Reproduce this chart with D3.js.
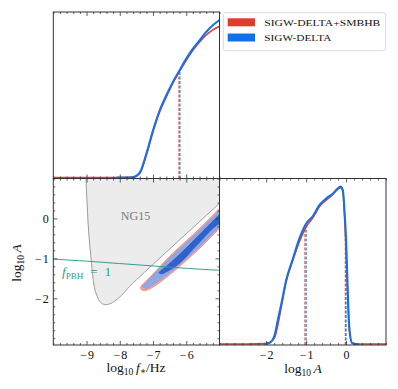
<!DOCTYPE html>
<html><head><meta charset="utf-8">
<script src="https://cdn.jsdelivr.net/npm/d3@7"></script>
<style>
html,body{margin:0;padding:0;background:#fff;}
svg{display:block;font-family:"Liberation Serif","DejaVu Serif",serif;}
</style></head>
<body>
<svg id="c" width="398" height="389"></svg>
<script>
// ---------- DATA ----------
const seriesNames = ["SIGW-DELTA+SMBHB", "SIGW-DELTA"];
const seriesColors = ["#e23a2c", "#1270ea"];

// 1D marginal of log10 f* (relative density)
const fRed = [[-10,0.006],[-8.5,0.006],[-7.8,0.006],[-7.6,0.008],[-7.4,0.03],[-7.2,0.14],[-7.0,0.28],[-6.8,0.40],[-6.6,0.49],[-6.4,0.575],[-6.2,0.645],[-6.0,0.71],[-5.8,0.77],[-5.6,0.82],[-5.4,0.862],[-5.2,0.893],[-5.0,0.915]];
const fBlue = [[-8.1,0.006],[-7.8,0.006],[-7.6,0.008],[-7.4,0.035],[-7.2,0.15],[-7.0,0.29],[-6.8,0.41],[-6.6,0.50],[-6.4,0.58],[-6.2,0.65],[-6.0,0.72],[-5.8,0.78],[-5.6,0.83],[-5.4,0.88],[-5.2,0.92],[-5.0,0.952]];
const fLimits = [-6.22, -6.19]; // red, blue

// 1D marginal of log10 A
const aRed = [[-3.17,0.006],[-2.5,0.006],[-2.0,0.008],[-1.92,0.015],[-1.79,0.045],[-1.71,0.12],[-1.62,0.23],[-1.5,0.38],[-1.33,0.51],[-1.17,0.62],[-1.0,0.71],[-0.83,0.765],[-0.67,0.83],[-0.5,0.87],[-0.33,0.905],[-0.21,0.935],[-0.14,0.945],[-0.08,0.92],[-0.04,0.78],[0.0,0.57],[0.04,0.29],[0.08,0.09],[0.15,0.012],[0.3,0.006],[1.0,0.006]];
const aBlue = [[-2.05,0.006],[-1.92,0.012],[-1.79,0.06],[-1.71,0.15],[-1.62,0.25],[-1.5,0.39],[-1.33,0.52],[-1.17,0.64],[-1.0,0.73],[-0.83,0.775],[-0.67,0.84],[-0.5,0.88],[-0.33,0.91],[-0.21,0.94],[-0.14,0.952],[-0.08,0.93],[-0.04,0.81],[0.0,0.64],[0.04,0.35],[0.08,0.11],[0.15,0.012],[0.25,0.006],[0.32,0.006]];
const aLimitsRed = [-1.03, -0.02];
const aLimitsBlue = [-1.0, 0.0];

// 2D: NG15 region boundary (log10 f*, log10 A)
const ng15 = [[-9.02,1.05],[-8.99,0.5],[-8.94,-0.29],[-8.85,-1.12],[-8.77,-1.7],[-8.68,-1.95],[-8.58,-2.1],[-8.45,-2.16],[-8.3,-2.14],[-8.15,-2.07],[-7.95,-1.93],[-7.7,-1.70],[-6.7,-0.92],[-5.0,0.38],[-4.9,0.46]];
const ng15Close = [[-4.9,1.1],[-9.02,1.1]];
// f_PBH = 1 line
const fpbh = [[-10,-1.02],[-9,-1.07],[-8,-1.13],[-7,-1.19],[-6,-1.25],[-5,-1.30]];
// contours
const red95 = [[-7.38,-1.74],[-7.25,-1.6],[-7.1,-1.48],[-6.5,-0.95],[-5.7,-0.33],[-5.0,0.25],[-4.7,0.52],[-4.7,0.0],[-5.0,-0.25],[-5.7,-0.83],[-6.5,-1.41],[-7.0,-1.72],[-7.2,-1.80],[-7.32,-1.80]];
const blue95 = [[-7.31,-1.71],[-7.15,-1.56],[-6.5,-1.0],[-5.7,-0.38],[-5.0,0.2],[-4.7,0.47],[-4.7,0.05],[-5.0,-0.2],[-5.7,-0.78],[-6.5,-1.36],[-7.0,-1.66],[-7.2,-1.75]];
const blue68 = [[-6.82,-1.36],[-6.6,-1.2],[-6.2,-0.9],[-5.6,-0.4],[-5.0,0.1],[-4.7,0.33],[-4.7,-0.08],[-5.0,-0.13],[-5.6,-0.6],[-6.2,-1.12],[-6.6,-1.34],[-6.75,-1.39]];

const fTicks = [-9,-8,-7,-6];
const aTicks = [-2,-1,0];

// ---------- LAYOUT ----------
const X0=53.3, X1=219.5, X2=386, Y0=12, Y1=178.5, Y2=345;
const svg = d3.select("#c");
const xF = d3.scaleLinear().domain([-10,-5]).range([X0,X1]);
const yA = d3.scaleLinear().domain([-3.17,1.0]).range([Y2,Y1]);
const xA = d3.scaleLinear().domain([-3.17,1.0]).range([X1,X2]);
const yTop = d3.scaleLinear().domain([0,1]).range([Y1,Y0]);
const yRight = d3.scaleLinear().domain([0,1]).range([Y2,Y1]);

const defs = svg.append("defs");
function clip(id,x,y,w,h){defs.append("clipPath").attr("id",id).append("rect").attr("x",x).attr("y",y).attr("width",w).attr("height",h);}
clip("cTop",X0,Y0,X1-X0,Y1-Y0);
clip("cBL",X0,Y1,X1-X0,Y2-Y1);
clip("cBR",X1,Y1,X2-X1,Y2-Y1);

const minorF = d3.range(-10,-4.99,0.2).map(v=>+v.toFixed(2)).filter(v=>!fTicks.includes(v));
const minorA = d3.range(-3.0,1.01,0.2).map(v=>+v.toFixed(2)).filter(v=>!aTicks.includes(v));
const TC="#333";
const fmt = d => d < 0 ? "\u2212\u200A" + Math.abs(d) : String(d);

function interp(arr,x){
  for(let i=0;i<arr.length-1;i++){
    if(x>=arr[i][0]&&x<=arr[i+1][0]){const t=(x-arr[i][0])/(arr[i+1][0]-arr[i][0]);return arr[i][1]+t*(arr[i+1][1]-arr[i][1]);}
  }
  return 0;
}

// ---------- 2D panel ----------
const bl = svg.append("g").attr("clip-path","url(#cBL)");
const l2 = d3.line().x(d=>xF(d[0])).y(d=>yA(d[1]));
bl.append("path").attr("d", l2.curve(d3.curveLinear)(ng15.concat(ng15Close))).attr("fill","#ececec");
bl.append("path").attr("d", d3.line().x(d=>xF(d[0])).y(d=>yA(d[1])).curve(d3.curveCatmullRom)(ng15)).attr("fill","none").attr("stroke","#9b9b9b").attr("stroke-width",1);
const lc = d3.line().x(d=>xF(d[0])).y(d=>yA(d[1])).curve(d3.curveCatmullRomClosed);
bl.append("path").attr("d",lc(red95)).attr("fill","#f3a29a").attr("stroke","#ee8a80").attr("stroke-width",0.8);
bl.append("path").attr("d",lc(blue95)).attr("fill","#8ea9e6").attr("stroke","#7d9be0").attr("stroke-width",0.6);
bl.append("path").attr("d",lc(blue68)).attr("fill","#2f63cb").attr("stroke","#2a5cc2").attr("stroke-width",0.5);
bl.append("path").attr("d", d3.line().x(d=>xF(d[0])).y(d=>yA(d[1])).curve(d3.curveCatmullRom)(fpbh)).attr("fill","none").attr("stroke","#2e9e92").attr("stroke-width",1);

// labels in 2D panel
svg.append("text").attr("x",135.5).attr("y",220).attr("text-anchor","middle").attr("font-size",12).attr("fill","#7a7a7a").text("NG15");
const fl = svg.append("text").attr("x",62).attr("y",276).attr("font-size",13.5).attr("fill","#2e9e92");
fl.append("tspan").attr("font-style","italic").text("f");
fl.append("tspan").attr("font-size",9).attr("dy",3).text("PBH");
fl.append("tspan").attr("dy",-3).text("\u2002=\u20021");

// ---------- top panel ----------
const tp = svg.append("g").attr("clip-path","url(#cTop)");
const lt = d3.line().x(d=>xF(d[0])).y(d=>yTop(d[1])).curve(d3.curveMonotoneX);
[fRed,fBlue].forEach((s,i)=>{
  tp.append("line").attr("x1",xF(fLimits[i])).attr("x2",xF(fLimits[i])).attr("y1",yTop(0)).attr("y2",yTop(interp(s,fLimits[i])))
    .attr("stroke",seriesColors[i]).attr("stroke-width",1).attr("stroke-dasharray","3,1.5");
});
tp.append("path").attr("d",lt(fRed)).attr("fill","none").attr("stroke",seriesColors[0]).attr("stroke-width",1.6);
tp.append("path").attr("d",lt(fBlue)).attr("fill","none").attr("stroke",seriesColors[1]).attr("stroke-width",2);

// ---------- right panel ----------
const rp = svg.append("g").attr("clip-path","url(#cBR)");
const lr = d3.line().x(d=>xA(d[0])).y(d=>yRight(d[1])).curve(d3.curveMonotoneX);
[[aRed,aLimitsRed],[aBlue,aLimitsBlue]].forEach(([s,lims],i)=>{
  lims.forEach(v=>{
    rp.append("line").attr("x1",xA(v)).attr("x2",xA(v)).attr("y1",yRight(0)).attr("y2",yRight(interp(s,v)))
      .attr("stroke",seriesColors[i]).attr("stroke-width",1).attr("stroke-dasharray","3,1.5");
  });
});
rp.append("path").attr("d",lr(aRed)).attr("fill","none").attr("stroke",seriesColors[0]).attr("stroke-width",1.6);
rp.append("path").attr("d",lr(aBlue)).attr("fill","none").attr("stroke",seriesColors[1]).attr("stroke-width",2);

// ---------- axes / ticks ----------
function ax(gen, scale, vals, size, labels, tx, ty, pad){
  const a = gen(scale).tickValues(vals).tickSize(size).tickPadding(pad||5);
  a.tickFormat(labels ? fmt : ()=>"");
  const g = svg.append("g").attr("transform",`translate(${tx},${ty})`).call(a);
  g.select(".domain").remove();
  g.selectAll("line").attr("stroke",TC).attr("stroke-width",0.8);
  g.selectAll("text").attr("font-family","Liberation Serif, DejaVu Serif, serif").attr("font-size",12).attr("fill","#111");
  return g;
}
// bottom-left
ax(d3.axisBottom, xF, fTicks, -4, true, 0, Y2, 5);
ax(d3.axisBottom, xF, minorF, -2, false, 0, Y2);
ax(d3.axisTop, xF, fTicks, -4, false, 0, Y1);
ax(d3.axisTop, xF, minorF, -2, false, 0, Y1);
ax(d3.axisLeft, yA, aTicks, -4, true, X0, 0, 4.5);
ax(d3.axisLeft, yA, minorA, -2, false, X0, 0);
ax(d3.axisRight, yA, aTicks, -4, false, X1, 0);
ax(d3.axisRight, yA, minorA, -2, false, X1, 0);
// top panel
ax(d3.axisBottom, xF, fTicks, -4, false, 0, Y1);
ax(d3.axisBottom, xF, minorF, -2, false, 0, Y1);
ax(d3.axisTop, xF, fTicks, -4, false, 0, Y0);
ax(d3.axisTop, xF, minorF, -2, false, 0, Y0);
// bottom-right
ax(d3.axisBottom, xA, aTicks, -4, true, 0, Y2, 5);
ax(d3.axisBottom, xA, minorA, -2, false, 0, Y2);
ax(d3.axisTop, xA, aTicks, -4, false, 0, Y1);
ax(d3.axisTop, xA, minorA, -2, false, 0, Y1);

// frames
[[X0,Y0,X1-X0,Y1-Y0],[X0,Y1,X1-X0,Y2-Y1],[X1,Y1,X2-X1,Y2-Y1]].forEach(r=>{
  svg.append("rect").attr("x",r[0]).attr("y",r[1]).attr("width",r[2]).attr("height",r[3]).attr("fill","none").attr("stroke",TC).attr("stroke-width",1);
});

// axis labels
function logLabel(x, y, rot, rest){
  const el = svg.append("text").attr("font-size",13.5).attr("fill","#111").attr("text-anchor","middle")
    .attr("transform",`translate(${x},${y})${rot?" rotate(-90)":""}`);
  el.append("tspan").text("log");
  el.append("tspan").attr("font-size",9.5).attr("dy",3).text("10");
  el.append("tspan").attr("dy",-3).text("\u2009");
  rest(el);
  return el;
}
logLabel(136, 372, false, el=>{
  el.append("tspan").attr("font-style","italic").text("f");
  el.append("tspan").attr("font-size",9.5).attr("dy",2).text("∗");
  el.append("tspan").attr("dy",-2).text("/Hz");
});
logLabel(303, 373, false, el=>{ el.append("tspan").attr("font-style","italic").text("A"); });
logLabel(21, 263, true, el=>{ el.append("tspan").attr("font-style","italic").text("A"); });

// legend
const lg = svg.append("g");
lg.append("rect").attr("x",223.3).attr("y",12.7).attr("width",162.4).attr("height",38).attr("rx",2.5).attr("fill","#fff").attr("stroke","#d0d0d0").attr("stroke-width",0.8);
seriesNames.forEach((n,i)=>{
  lg.append("rect").attr("x",227.7).attr("y",18.3+i*15.2).attr("width",27.3).attr("height",8).attr("fill",seriesColors[i]);
  lg.append("text").attr("x",264.3).attr("y",26+i*15.2).attr("font-size",8.6).attr("fill","#111")
    .attr("textLength", i===0?116:67).attr("lengthAdjust","spacingAndGlyphs").text(n);
});
</script>
</body></html>
